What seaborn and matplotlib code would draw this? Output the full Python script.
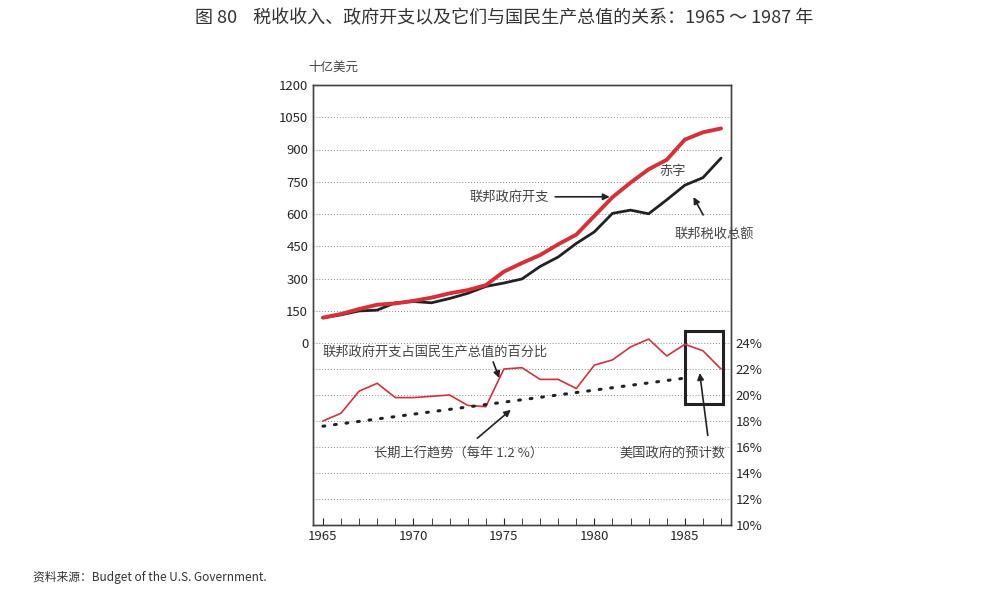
import numpy as np
import pandas as pd
import seaborn as sns
import matplotlib
matplotlib.use("Agg")
from matplotlib import pyplot as plt
from matplotlib.patches import Rectangle

years = list(range(1965, 1988))
spending = [118, 135, 158, 178, 184, 196, 211, 231, 246, 269, 332, 372, 409,
            459, 504, 591, 678, 746, 808, 852, 946, 980, 998]
revenue = [117, 131, 149, 153, 187, 193, 187, 207, 231, 263, 279, 298, 356,
           400, 463, 517, 603, 618, 601, 666, 734, 769, 860]
pct_gnp = [18.0, 18.6, 20.3, 20.9, 19.8, 19.8, 19.9, 20.0, 19.2, 19.1, 22.0, 22.1,
           21.2, 21.2, 20.5, 22.3, 22.7, 23.7, 24.3, 23.0, 23.9, 23.4, 22.0]
trend_years = [1965, 1985]
trend_vals = [17.6, 21.3]

left_ticks = [0, 150, 300, 450, 600, 750, 900, 1050, 1200]
right_ticks = [10, 12, 14, 16, 18, 20, 22, 24]

sns.set_style("ticks")
plt.rcParams['font.family'] = ['Noto Sans CJK SC', 'DejaVu Sans']

df = pd.DataFrame({"year": years, "spending": spending, "revenue": revenue, "pct": pct_gnp})

fig = plt.figure(figsize=(10.08, 5.93), dpi=100)
ax = fig.add_axes([313 / 1008, 1 - 525 / 593, 418 / 1008, 440 / 593])
ax2 = ax.twinx()

bottom = -(525 - 343) / (343 - 85) * 1200
ax.set_ylim(bottom, 1200)
ax.set_xlim(1964.45, 1987.55)
top_pct = 24 + (343 - 85) / 13.0
ax2.set_ylim(10, top_pct)

for v in left_ticks[1:-1] + [0]:
    ax.axhline(v, color="#888888", lw=0.7, ls=(0, (1, 2)), zorder=0)
for v in right_ticks[1:-1]:
    ax2.axhline(v, color="#888888", lw=0.7, ls=(0, (1, 2)), zorder=0)

sns.lineplot(data=df, x="year", y="revenue", ax=ax, color="#222222", lw=2)
sns.lineplot(data=df, x="year", y="spending", ax=ax, color="#d8303a", lw=2.8)
sns.lineplot(data=df, x="year", y="pct", ax=ax2, color="#d8303a", lw=1.2)
ax2.plot(trend_years, trend_vals, color="#222222", lw=2.2, ls=(0, (0.6, 3.2)),
         dash_capstyle="round")

ax.set_yticks(left_ticks)
ax.set_yticklabels([str(v) for v in left_ticks], fontsize=9.5)
ax2.set_yticks(right_ticks)
ax2.set_yticklabels([f"{v}%" for v in right_ticks], fontsize=9.5)
ax.set_xticks([1965, 1970, 1975, 1980, 1985])
ax.set_xticklabels(["1965", "1970", "1975", "1980", "1985"], fontsize=9.5)
ax.set_xticks(years, minor=True)
ax.tick_params(axis="x", which="both", direction="in", length=5)
ax.tick_params(axis="y", length=0)
ax2.tick_params(axis="y", length=0)
ax.set_xlabel("")
ax.set_ylabel("")
ax2.set_ylabel("")
for a in (ax, ax2):
    for s in a.spines.values():
        s.set_color("#444444")
        s.set_linewidth(1.0)

ax2.add_patch(Rectangle((1985, 19.3), 2.1, 5.6, fill=False, ec="#222222", lw=2.2))

ax.text(1964.2, 1265, "十亿美元", fontsize=9, color="#444444")
ax.annotate("联邦政府开支", xy=(1981, 680), xytext=(1977.5, 680), fontsize=9.5, color="#444444",
            ha="right", va="center",
            arrowprops=dict(arrowstyle="-|>", color="#222222", lw=1.2))
ax.text(1984.3, 800, "赤字", fontsize=9.5, color="#444444", ha="center", va="center")
ax.annotate("联邦税收总额", xy=(1985.4, 690), xytext=(1986.6, 505), fontsize=9.5, color="#444444",
            ha="center", va="center",
            arrowprops=dict(arrowstyle="-|>", color="#222222", lw=1.2, shrinkA=8))
ax2.annotate("联邦政府开支占国民生产总值的百分比", xy=(1974.8, 21.1), xytext=(1965.0, 23.3),
             fontsize=9.5, color="#444444", va="center",
             arrowprops=dict(arrowstyle="-|>", color="#222222", lw=1.2, shrinkA=0,
                             relpos=(0.75, 0)))
ax2.annotate("长期上行趋势（每年 1.2 %）", xy=(1975.5, 19.0), xytext=(1972.5, 15.5),
             fontsize=9.5, color="#444444", ha="center", va="center",
             arrowprops=dict(arrowstyle="-|>", color="#222222", lw=1.2, shrinkA=6,
                             relpos=(0.55, 1)))
ax2.annotate("美国政府的预计数", xy=(1985.8, 21.9), xytext=(1984.3, 15.5),
             fontsize=9.5, color="#444444", ha="center", va="center",
             arrowprops=dict(arrowstyle="-|>", color="#222222", lw=1.2, shrinkA=6,
                             relpos=(0.85, 1)))

fig.text(0.5, 1 - 18 / 593, "图 80    税收收入、政府开支以及它们与国民生产总值的关系：1965 ～ 1987 年",
         ha="center", va="center", fontsize=13, color="#333333")
fig.text(33 / 1008, 1 - 577 / 593, "资料来源：Budget of the U.S. Government.",
         ha="left", va="center", fontsize=8.5, color="#333333")

fig.savefig("out.png", dpi=100)
